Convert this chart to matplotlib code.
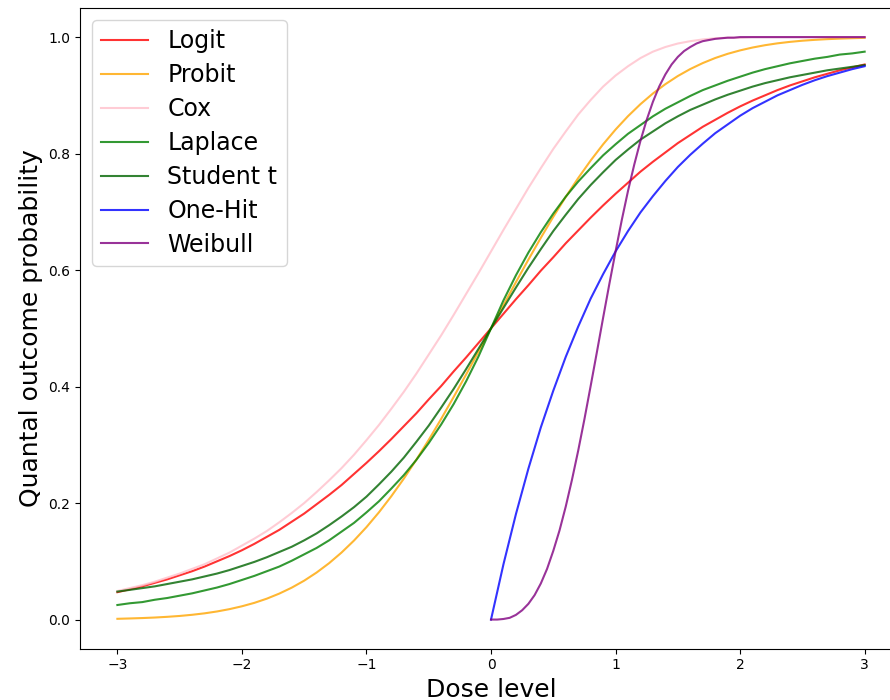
import matplotlib
matplotlib.use("Agg")
import matplotlib.pyplot as plt

# dose levels (whole range models)
dose = [-3.0, -2.9, -2.8, -2.7, -2.6, -2.5, -2.4, -2.3, -2.2, -2.1,
        -2.0, -1.9, -1.8, -1.7, -1.6, -1.5, -1.4, -1.3, -1.2, -1.1,
        -1.0, -0.9, -0.8, -0.7, -0.6, -0.5, -0.4, -0.3, -0.2, -0.1,
        0.0, 0.1, 0.2, 0.3, 0.4, 0.5, 0.6, 0.7, 0.8, 0.9,
        1.0, 1.1, 1.2, 1.3, 1.4, 1.5, 1.6, 1.7, 1.8, 1.9,
        2.0, 2.1, 2.2, 2.3, 2.4, 2.5, 2.6, 2.7, 2.8, 2.9, 3.0]

logit = [0.047, 0.052, 0.057, 0.063, 0.069, 0.076, 0.083, 0.091, 0.100, 0.109,
         0.119, 0.130, 0.142, 0.154, 0.168, 0.182, 0.198, 0.214, 0.231, 0.250,
         0.269, 0.289, 0.310, 0.332, 0.354, 0.378, 0.401, 0.426, 0.450, 0.475,
         0.500, 0.525, 0.550, 0.574, 0.599, 0.622, 0.646, 0.668, 0.690, 0.711,
         0.731, 0.750, 0.769, 0.786, 0.802, 0.818, 0.832, 0.846, 0.858, 0.870,
         0.881, 0.891, 0.900, 0.909, 0.917, 0.924, 0.931, 0.937, 0.943, 0.948, 0.953]
probit = [0.0013, 0.0019, 0.0026, 0.0035, 0.0047, 0.0062, 0.0082, 0.0107, 0.0139, 0.0179,
          0.0228, 0.0287, 0.0359, 0.0446, 0.0548, 0.0668, 0.0808, 0.0968, 0.1151, 0.1357,
          0.1587, 0.1841, 0.2119, 0.2420, 0.2743, 0.3085, 0.3446, 0.3821, 0.4207, 0.4602,
          0.5000, 0.5398, 0.5793, 0.6179, 0.6554, 0.6915, 0.7257, 0.7580, 0.7881, 0.8159,
          0.8413, 0.8643, 0.8849, 0.9032, 0.9192, 0.9332, 0.9452, 0.9554, 0.9641, 0.9713,
          0.9772, 0.9821, 0.9861, 0.9893, 0.9918, 0.9938, 0.9953, 0.9965, 0.9974, 0.9981, 0.9987]
cox = [0.049, 0.054, 0.059, 0.065, 0.072, 0.079, 0.087, 0.095, 0.105, 0.115,
       0.127, 0.139, 0.152, 0.167, 0.183, 0.200, 0.219, 0.239, 0.260, 0.283,
       0.308, 0.334, 0.362, 0.391, 0.422, 0.455, 0.488, 0.523, 0.559, 0.595,
       0.632, 0.669, 0.705, 0.741, 0.775, 0.808, 0.838, 0.867, 0.892, 0.915,
       0.934, 0.950, 0.964, 0.975, 0.983, 0.989, 0.993, 0.996, 0.998, 0.999,
       0.999, 1.000, 1.000, 1.000, 1.000, 1.000, 1.000, 1.000, 1.000, 1.000, 1.000]
laplace = [0.025, 0.028, 0.030, 0.034, 0.037, 0.041, 0.045, 0.050, 0.055, 0.061,
           0.068, 0.075, 0.083, 0.091, 0.101, 0.112, 0.123, 0.136, 0.151, 0.166,
           0.184, 0.203, 0.225, 0.248, 0.274, 0.303, 0.335, 0.370, 0.409, 0.452,
           0.500, 0.548, 0.591, 0.630, 0.665, 0.697, 0.726, 0.752, 0.775, 0.797,
           0.816, 0.834, 0.849, 0.864, 0.877, 0.888, 0.899, 0.909, 0.917, 0.925,
           0.932, 0.939, 0.945, 0.950, 0.955, 0.959, 0.963, 0.966, 0.970, 0.972, 0.975]
student_t = [0.048, 0.051, 0.054, 0.057, 0.061, 0.065, 0.069, 0.074, 0.079, 0.085,
             0.092, 0.099, 0.107, 0.116, 0.125, 0.136, 0.148, 0.162, 0.177, 0.193,
             0.211, 0.232, 0.254, 0.278, 0.305, 0.333, 0.364, 0.396, 0.430, 0.465,
             0.500, 0.535, 0.570, 0.604, 0.636, 0.667, 0.695, 0.722, 0.746, 0.768,
             0.789, 0.807, 0.824, 0.838, 0.852, 0.864, 0.875, 0.884, 0.893, 0.901,
             0.908, 0.915, 0.921, 0.926, 0.931, 0.935, 0.939, 0.943, 0.946, 0.949, 0.952]

# One-Hit only starts at zero dose
dose_hit = [0.0, 0.1, 0.2, 0.3, 0.4, 0.5, 0.6, 0.7, 0.8, 0.9, 1.0, 1.1, 1.2, 1.3, 1.4, 1.5,
            1.6, 1.7, 1.8, 1.9, 2.0, 2.1, 2.2, 2.3, 2.4, 2.5, 2.6, 2.7, 2.8, 2.9, 3.0]
one_hit = [0.000, 0.095, 0.181, 0.259, 0.330, 0.393, 0.451, 0.503, 0.551, 0.593, 0.632,
           0.667, 0.699, 0.727, 0.753, 0.777, 0.798, 0.817, 0.835, 0.850, 0.865,
           0.878, 0.889, 0.900, 0.909, 0.918, 0.926, 0.933, 0.939, 0.945, 0.950]

# Weibull is steep, read it closer together
dose_wb = [0.0, 0.05, 0.1, 0.15, 0.2, 0.25, 0.3, 0.35, 0.4, 0.45,
           0.5, 0.55, 0.6, 0.65, 0.7, 0.75, 0.8, 0.85, 0.9, 0.95,
           1.0, 1.05, 1.1, 1.15, 1.2, 1.25, 1.3, 1.35, 1.4, 1.45,
           1.5, 1.55, 1.6, 1.65, 1.7, 1.75, 1.8, 1.85, 1.9, 1.95,
           2.0, 2.1, 2.2, 2.3, 2.4, 2.5, 2.6, 2.7, 2.8, 2.9, 3.0]
weibull = [0.000, 0.000, 0.001, 0.003, 0.008, 0.016, 0.027, 0.042, 0.062, 0.087,
           0.118, 0.153, 0.194, 0.240, 0.290, 0.344, 0.401, 0.459, 0.518, 0.576,
           0.632, 0.686, 0.736, 0.781, 0.822, 0.858, 0.889, 0.915, 0.936, 0.953,
           0.966, 0.976, 0.983, 0.989, 0.993, 0.995, 0.997, 0.998, 0.999, 0.999,
           1.000, 1.000, 1.000, 1.000, 1.000, 1.000, 1.000, 1.000, 1.000, 1.000, 1.000]

fig = plt.figure(figsize=(8.9, 7), dpi=100)
ax = fig.add_axes([0.0899, 0.0733, 0.9236, 0.9153])

ax.plot(dose, logit, color='red', alpha=0.8, label='Logit')
ax.plot(dose, probit, color='orange', alpha=0.8, label='Probit')
ax.plot(dose, cox, color='pink', alpha=0.8, label='Cox')
ax.plot(dose, laplace, color='green', alpha=0.8, label='Laplace')
ax.plot(dose, student_t, color='darkgreen', alpha=0.8, label='Student t')
ax.plot(dose_hit, one_hit, color='blue', alpha=0.8, label='One-Hit')
ax.plot(dose_wb, weibull, color='purple', alpha=0.8, label='Weibull')

ax.set_xlabel('Dose level', fontsize=18)
ax.set_ylabel('Quantal outcome probability', fontsize=18)
ax.legend(loc='upper left', fontsize=17, labelspacing=0.42)

fig.savefig('out.png')
